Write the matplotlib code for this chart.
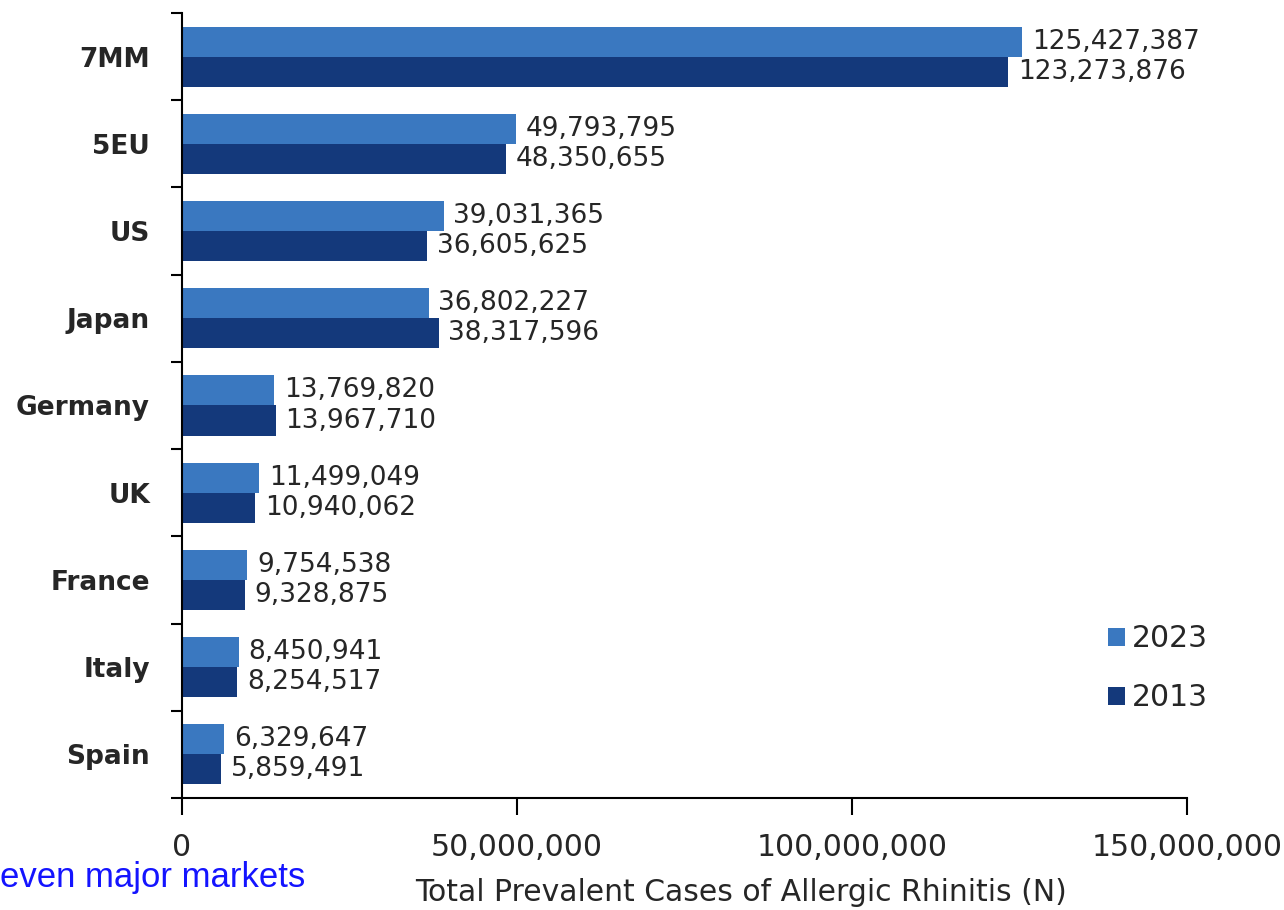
import matplotlib
matplotlib.use("Agg")
import matplotlib.pyplot as plt
from matplotlib.ticker import FuncFormatter

plt.rcParams['font.family'] = ['DejaVu Sans']

markets = ["7MM", "5EU", "US", "Japan", "Germany", "UK", "France", "Italy", "Spain"]
cases_2023 = [125427387, 49793795, 39031365, 36802227, 13769820, 11499049, 9754538, 8450941, 6329647]
cases_2013 = [123273876, 48350655, 36605625, 38317596, 13967710, 10940062, 9328875, 8254517, 5859491]
x_ticks = [0, 50000000, 100000000, 150000000]

color_2023 = "#3a78c0"
color_2013 = "#14397b"
text_color = "#262626"

fig = plt.figure(figsize=(12.84, 9.10), dpi=100)
ax = fig.add_axes([182 / 1284, 1 - 798 / 910, (1187 - 182) / 1284, (798 - 13) / 910])

h = 0.345
ypos = list(range(len(markets)))
b23 = ax.barh([y - h / 2 for y in ypos], cases_2023, height=h, color=color_2023, label="2023")
b13 = ax.barh([y + h / 2 for y in ypos], cases_2013, height=h, color=color_2013, label="2013")

for bars, vals in ((b23, cases_2023), (b13, cases_2013)):
    for bar, v in zip(bars, vals):
        ax.annotate(f"{v:,}", xy=(v, bar.get_y() + bar.get_height() / 2),
                    xytext=(7, 0), textcoords="offset points",
                    va="center", ha="left", fontsize=19, color=text_color)

ax.set_xlim(0, 150000000)
ax.set_ylim(len(markets) - 0.5, -0.5)
ax.set_xticks(x_ticks)
ax.xaxis.set_major_formatter(FuncFormatter(lambda v, p: f"{int(v):,}"))
ax.tick_params(axis="x", direction="out", length=12, width=1.5, pad=13,
               labelsize=21.5, labelcolor=text_color)

# category labels in the middle of each band, tick marks on the band boundaries
ax.set_yticks([y - 0.5 for y in ypos] + [len(markets) - 0.5])
ax.set_yticklabels([])
ax.tick_params(axis="y", direction="out", length=8, width=1.5)
ax.set_yticks(ypos, minor=True)
ax.set_yticklabels(markets, minor=True, fontsize=19, color=text_color, fontweight="bold")
ax.tick_params(axis="y", which="minor", length=0, pad=23)

for s in ("top", "right"):
    ax.spines[s].set_visible(False)
ax.spines["left"].set_linewidth(1.5)
ax.spines["bottom"].set_linewidth(1.5)

ax.set_xlabel("Total Prevalent Cases of Allergic Rhinitis (N)", fontsize=21.5,
              color=text_color, va="center")
ax.xaxis.set_label_coords(0.556, -0.121)

ax.legend(loc="lower right", bbox_to_anchor=(1.048, 0.075), frameon=False,
          fontsize=21.5, handlelength=0.55, handleheight=0.55, handletextpad=0.25,
          labelspacing=1.0, labelcolor=text_color)

fig.text(0.0, 1 - 877 / 910, "even major markets", fontsize=25, color="#1414ff",
         ha="left", va="center", family="Liberation Sans")

fig.savefig("out.png", dpi=100)
